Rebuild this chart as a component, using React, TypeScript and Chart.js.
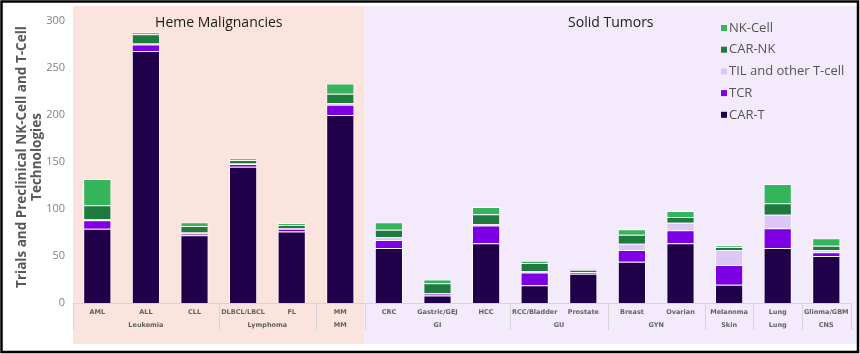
import React, { useEffect, useRef } from "react";
import { Chart, registerables } from "chart.js";

Chart.register(...registerables);

const categories = ["AML", "ALL", "CLL", "DLBCL/LBCL", "FL", "MM", "CRC", "Gastric/GEJ", "HCC", "RCC/Bladder", "Prostate", "Breast", "Ovarian", "Melanoma", "Lung", "Glioma/GBM"];
const groups = ["Leukemia", "Leukemia", "Leukemia", "Lymphoma", "Lymphoma", "MM", "GI", "GI", "GI", "GU", "GU", "GYN", "GYN", "Skin", "Lung", "CNS"];
const sections = ["Heme Malignancies", "Heme Malignancies", "Heme Malignancies", "Heme Malignancies", "Heme Malignancies", "Heme Malignancies", "Solid Tumors", "Solid Tumors", "Solid Tumors", "Solid Tumors", "Solid Tumors", "Solid Tumors", "Solid Tumors", "Solid Tumors", "Solid Tumors", "Solid Tumors"];

const carT = [79, 268, 72, 145, 76, 200, 58.5, 8, 63.5, 19, 31, 44, 63.5, 19.5, 58.5, 50];
const tcr = [9, 7, 2, 3, 3, 11, 8.5, 2, 19, 13.5, 2, 12.5, 14, 21, 21, 4];
const til = [1, 1, 1, 0.5, 0.5, 1.5, 3, 0.5, 1.5, 1.5, 0, 6.5, 8, 16, 14.5, 2];
const carNK = [15, 10, 7, 3.5, 3.5, 10, 8, 10.5, 10.5, 8.5, 2.5, 9.5, 6, 3, 12, 5];
const nkCell = [28, 2, 4, 2, 2, 11, 8, 4, 7.5, 2.5, 0.5, 6, 6.5, 2, 20.5, 8];

const yTicks = [0, 50, 100, 150, 200, 250, 300];
const yTitle = ["Trials and Preclinical NK-Cell and T-Cell", "Technologies"];

const seriesNames = ["CAR-T", "TCR", "TIL and other T-cell", "CAR-NK", "NK-Cell"];
const seriesColors = ["#21004A", "#7D00E4", "#DEC6F7", "#1F7A3E", "#34B55C"];
const sectionColors = ["#FBE3DE", "#F3EAFB"];

export default function App() {
  const ref = useRef<HTMLCanvasElement | null>(null);

  useEffect(() => {
    document.body.style.margin = "0";
    const canvas = ref.current;
    if (!canvas) return;
    const seriesData = [carT, tcr, til, carNK, nkCell];

    const sectionBounds = (chart: any) => {
      const { chartArea, scales } = chart;
      const x = scales.x;
      const secNames: string[] = [];
      sections.forEach((s) => { if (!secNames.includes(s)) secNames.push(s); });
      return secNames.map((s) => {
        const idx = sections.map((v, i) => (v === s ? i : -1)).filter((i) => i >= 0);
        const first = idx[0];
        const last = idx[idx.length - 1];
        const left = first === 0 ? chartArea.left : (x.getPixelForValue(first - 1) + x.getPixelForValue(first)) / 2;
        const right = last === categories.length - 1 ? chart.width - 3 : (x.getPixelForValue(last) + x.getPixelForValue(last + 1)) / 2;
        return { name: s, left, right };
      });
    };

    const decor = {
      id: "decor",
      beforeDraw(chart: any) {
        const { ctx } = chart;
        ctx.save();
        ctx.fillStyle = "#ffffff";
        ctx.fillRect(0, 0, chart.width, chart.height);
        sectionBounds(chart).forEach((b, si) => {
          ctx.fillStyle = sectionColors[si % sectionColors.length];
          ctx.fillRect(b.left, 6, b.right - b.left, 338);
        });
        ctx.restore();
      },
      afterDraw(chart: any) {
        const { ctx, chartArea, scales } = chart;
        const x = scales.x;
        ctx.save();
        ctx.fillStyle = "#1a1a1a";
        ctx.font = "14px 'Open Sans'";
        ctx.textAlign = "center";
        ctx.textBaseline = "middle";
        sectionBounds(chart).forEach((b) => {
          ctx.fillText(b.name, (b.left + b.right) / 2, 23);
        });

        // x axis line
        ctx.strokeStyle = "#d4d4d4";
        ctx.lineWidth = 1;
        ctx.beginPath();
        ctx.moveTo(chartArea.left, chartArea.bottom + 0.5);
        ctx.lineTo(chartArea.right, chartArea.bottom + 0.5);
        ctx.stroke();

        // group separators & labels
        const bounds: number[] = [];
        for (let i = 0; i <= categories.length; i++) {
          if (i === 0 || i === categories.length || groups[i] !== groups[i - 1]) bounds.push(i);
        }
        const edge = (i: number) => {
          if (i === 0) return chartArea.left;
          if (i === categories.length) return chartArea.right;
          return (x.getPixelForValue(i - 1) + x.getPixelForValue(i)) / 2;
        };
        bounds.forEach((b) => {
          const px = Math.round(edge(b)) + 0.5;
          ctx.beginPath();
          ctx.moveTo(px, chartArea.bottom);
          ctx.lineTo(px, chartArea.bottom + 27);
          ctx.stroke();
        });
        ctx.fillStyle = "#626262";
        ctx.font = "bold 6.5px 'DejaVu Sans'";
        categories.forEach((c, i) => {
          ctx.fillText(c, x.getPixelForValue(i), chartArea.bottom + 9);
        });
        for (let k = 0; k < bounds.length - 1; k++) {
          const a = bounds[k];
          const b = bounds[k + 1] - 1;
          const cx = (x.getPixelForValue(a) + x.getPixelForValue(b)) / 2;
          ctx.fillText(groups[a], cx, chartArea.bottom + 22);
        }

        // y title
        ctx.save();
        ctx.translate(30, 157);
        ctx.rotate(-Math.PI / 2);
        ctx.fillStyle = "#595959";
        ctx.font = "bold 13.5px 'Open Sans'";
        ctx.textAlign = "center";
        ctx.textBaseline = "middle";
        yTitle.forEach((t, i) => ctx.fillText(t, 0, (i - (yTitle.length - 1) / 2) * 15));
        ctx.restore();

        // legend (reversed order)
        ctx.font = "13px 'Open Sans'";
        ctx.textAlign = "left";
        ctx.textBaseline = "middle";
        for (let k = 0; k < seriesNames.length; k++) {
          const si = seriesNames.length - 1 - k;
          const yy = 28 + k * 21.7;
          ctx.fillStyle = seriesColors[si];
          ctx.fillRect(721, yy - 3, 6, 6);
          ctx.fillStyle = "#555555";
          ctx.fillText(seriesNames[si], 729, yy);
        }

        // outer border
        ctx.strokeStyle = "#000000";
        ctx.lineWidth = 2.5;
        ctx.strokeRect(1.5, 1.5, 856.5, 350.5);
        ctx.restore();
      },
    };

    const chart = new Chart(canvas, {
      type: "bar",
      data: {
        labels: categories,
        datasets: seriesNames.map((name, i) => ({
          label: name,
          data: seriesData[i],
          backgroundColor: seriesColors[i],
          borderColor: "rgba(255,255,255,0.75)",
          borderWidth: 1,
          categoryPercentage: 1,
          barPercentage: 0.58,
        })),
      },
      options: {
        responsive: false,
        animation: false,
        layout: { padding: { left: 0, right: 9.4, top: 21, bottom: 0 } },
        plugins: { legend: { display: false }, tooltip: { enabled: false } },
        scales: {
          x: {
            stacked: true,
            grid: { display: false },
            border: { display: false },
            ticks: { display: false },
            afterFit: (s: any) => { s.height = 51; },
          },
          y: {
            stacked: true,
            min: 0,
            max: 300,
            afterBuildTicks: (s: any) => { s.ticks = yTicks.map((v) => ({ value: v })); },
            grid: { display: false, drawTicks: false },
            border: { display: false },
            ticks: { color: "#808080", font: { family: "'Open Sans'", size: 11 }, padding: 8 },
            afterFit: (s: any) => { s.width = 73; },
          },
        },
      },
      plugins: [decor],
    });
    return () => chart.destroy();
  }, []);

  return <canvas ref={ref} width={860} height={354} style={{ display: "block" }} />;
}
